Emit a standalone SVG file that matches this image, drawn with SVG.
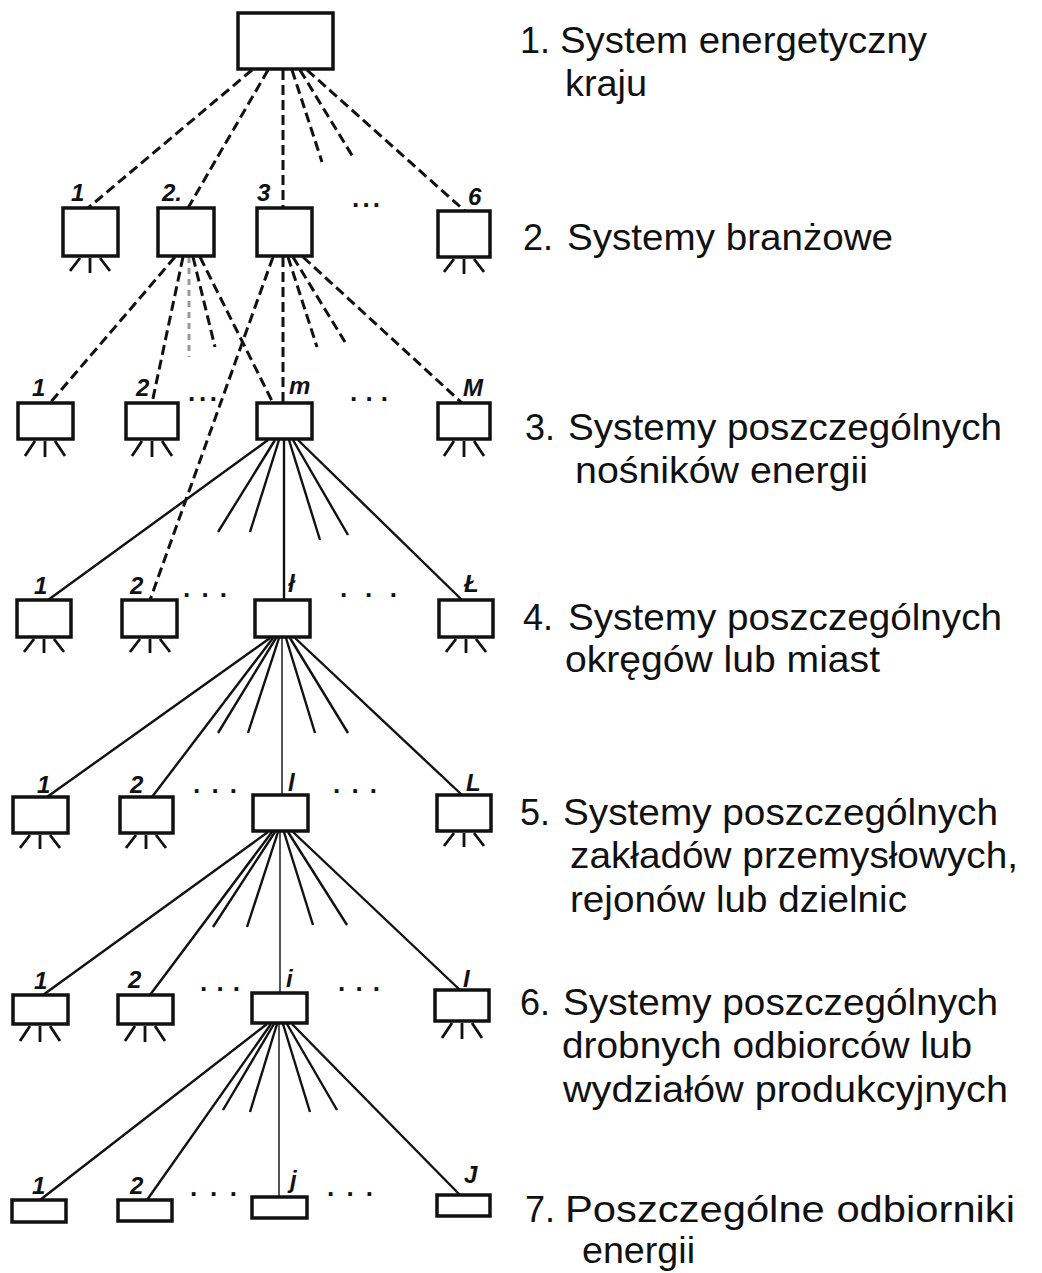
<svg xmlns="http://www.w3.org/2000/svg" width="1042" height="1273" viewBox="0 0 1042 1273">
<style>
.bx{fill:#fff;stroke:#111;stroke-width:3.5}
.d{stroke:#111;stroke-width:3;stroke-dasharray:10 5;fill:none}
.dl{stroke:#999;stroke-width:3;stroke-dasharray:6 5;fill:none}
.s{stroke:#111;stroke-width:2.4;fill:none}
.sv{stroke:#555;stroke-width:2;fill:none}
.lg{stroke:#111;stroke-width:2.8;fill:none}
.lb{font-family:"Liberation Sans",Arial,sans-serif;font-style:italic;font-weight:bold;font-size:24px;fill:#111}
.dt{font-family:"Liberation Sans",Arial,sans-serif;font-weight:bold;font-size:26px;fill:#111}
.t{font-family:"Liberation Sans",Arial,sans-serif;font-size:36px;fill:#111}
</style>
<rect width="1042" height="1273" fill="#fff"/>
<g id="connectors">
<line class="d" x1="252" y1="70" x2="88" y2="208"/>
<line class="d" x1="268" y1="70" x2="188" y2="208"/>
<line class="d" x1="283" y1="70" x2="283" y2="208"/>
<line class="d" x1="292" y1="70" x2="322" y2="162"/>
<line class="d" x1="300" y1="70" x2="353" y2="157"/>
<line class="d" x1="307" y1="70" x2="465" y2="211"/>
<line class="d" x1="175" y1="257" x2="50" y2="403"/>
<line class="d" x1="183" y1="257" x2="152" y2="403"/>
<line class="dl" x1="189" y1="257" x2="189" y2="357"/>
<line class="d" x1="193" y1="257" x2="215" y2="347"/>
<line class="d" x1="200" y1="257" x2="273" y2="403"/>
<line class="d" x1="273" y1="257" x2="150" y2="600"/>
<line class="d" x1="283" y1="257" x2="283" y2="403"/>
<line class="d" x1="288" y1="257" x2="317" y2="347"/>
<line class="d" x1="293" y1="257" x2="345" y2="342"/>
<line class="d" x1="303" y1="257" x2="462" y2="403"/>
<line class="s" x1="268" y1="440" x2="48" y2="600"/>
<line class="s" x1="275" y1="440" x2="218" y2="532"/>
<line class="s" x1="279" y1="440" x2="250" y2="532"/>
<line class="s" x1="284" y1="440" x2="284" y2="600"/>
<line class="s" x1="289" y1="440" x2="320" y2="540"/>
<line class="s" x1="293" y1="440" x2="348" y2="535"/>
<line class="s" x1="298" y1="440" x2="462" y2="600"/>
<line class="s" x1="270" y1="638" x2="47" y2="797"/>
<line class="s" x1="273" y1="638" x2="152" y2="797"/>
<line class="s" x1="276" y1="638" x2="218" y2="733"/>
<line class="s" x1="279" y1="638" x2="248" y2="733"/>
<line class="sv" x1="282" y1="638" x2="282" y2="795"/>
<line class="s" x1="286" y1="638" x2="315" y2="733"/>
<line class="s" x1="290" y1="638" x2="348" y2="733"/>
<line class="s" x1="295" y1="638" x2="462" y2="795"/>
<line class="s" x1="268" y1="832" x2="43" y2="995"/>
<line class="s" x1="272" y1="832" x2="150" y2="995"/>
<line class="s" x1="275" y1="832" x2="213" y2="927"/>
<line class="s" x1="278" y1="832" x2="247" y2="927"/>
<line class="sv" x1="280" y1="832" x2="280" y2="993"/>
<line class="s" x1="284" y1="832" x2="313" y2="925"/>
<line class="s" x1="288" y1="832" x2="347" y2="925"/>
<line class="s" x1="293" y1="832" x2="460" y2="990"/>
<line class="s" x1="267" y1="1024" x2="40" y2="1200"/>
<line class="s" x1="271" y1="1024" x2="147" y2="1200"/>
<line class="s" x1="274" y1="1024" x2="223" y2="1110"/>
<line class="s" x1="277" y1="1024" x2="250" y2="1112"/>
<line class="sv" x1="279" y1="1024" x2="279" y2="1197"/>
<line class="s" x1="283" y1="1024" x2="310" y2="1112"/>
<line class="s" x1="287" y1="1024" x2="337" y2="1110"/>
<line class="s" x1="292" y1="1024" x2="460" y2="1195"/>
<path class="lg" d="M80,258 L70,271 M90,258 L90,273 M100,258 L110,271"/>
<path class="lg" d="M454,259 L444,272 M464,259 L464,274 M474,259 L484,272"/>
<path class="lg" d="M35,441 L25,456 M45,441 L45,457 M55,441 L65,456"/>
<path class="lg" d="M142,441 L132,456 M152,441 L152,457 M162,441 L172,456"/>
<path class="lg" d="M454,441 L444,456 M464,441 L464,457 M474,441 L484,456"/>
<path class="lg" d="M34,639 L24,652 M44,639 L44,653 M54,639 L64,652"/>
<path class="lg" d="M140,639 L130,652 M150,639 L150,653 M160,639 L170,652"/>
<path class="lg" d="M456,639 L446,652 M466,639 L466,653 M476,639 L486,652"/>
<path class="lg" d="M30,835 L20,848 M40,835 L40,849 M50,835 L60,848"/>
<path class="lg" d="M136,835 L126,848 M146,835 L146,849 M156,835 L166,848"/>
<path class="lg" d="M454,833 L444,846 M464,833 L464,847 M474,833 L484,846"/>
<path class="lg" d="M30,1026 L20,1041 M40,1026 L40,1042 M50,1026 L60,1041"/>
<path class="lg" d="M135,1026 L125,1041 M145,1026 L145,1042 M155,1026 L165,1041"/>
<path class="lg" d="M452,1023 L442,1038 M462,1023 L462,1039 M472,1023 L482,1038"/>
</g>
<g id="n1"><rect class="bx" x="238" y="13" width="95" height="56"/></g>
<g id="n2-1"><rect class="bx" x="63" y="208" width="55" height="48"/><text class="lb" x="71" y="201">1</text></g>
<g id="n2-2"><rect class="bx" x="158" y="208" width="56" height="48"/><text class="lb" x="162" y="201">2.</text></g>
<g id="n2-3"><rect class="bx" x="257" y="208" width="55" height="48"/><text class="lb" x="257" y="201">3</text></g>
<g id="n2-6"><rect class="bx" x="438" y="211" width="52" height="46"/><text class="lb" x="468" y="205">6</text></g>
<text class="dt" x="352" y="207" textLength="28" lengthAdjust="spacing">...</text>
<g id="n3-1"><rect class="bx" x="18" y="403" width="55" height="36"/><text class="lb" x="32" y="396">1</text></g>
<g id="n3-2"><rect class="bx" x="126" y="403" width="52" height="36"/><text class="lb" x="136" y="396">2</text></g>
<g id="n3-m"><rect class="bx" x="257" y="403" width="55" height="36"/><text class="lb" x="289" y="394">m</text></g>
<g id="n3-M"><rect class="bx" x="438" y="403" width="52" height="36"/><text class="lb" x="463" y="396">M</text></g>
<text class="dt" x="188" y="401" textLength="29" lengthAdjust="spacing">...</text>
<text class="dt" x="350" y="401" textLength="38" lengthAdjust="spacing">...</text>
<g id="n4-1"><rect class="bx" x="17" y="600" width="54" height="37"/><text class="lb" x="34" y="594">1</text></g>
<g id="n4-2"><rect class="bx" x="122" y="600" width="55" height="37"/><text class="lb" x="130" y="594">2</text></g>
<g id="n4-l"><rect class="bx" x="255" y="600" width="55" height="37"/><text class="lb" x="288" y="592">ł</text></g>
<g id="n4-L"><rect class="bx" x="439" y="600" width="54" height="37"/><text class="lb" x="464" y="592">Ł</text></g>
<text class="dt" x="183" y="597" textLength="44" lengthAdjust="spacing">...</text>
<text class="dt" x="340" y="597" textLength="57" lengthAdjust="spacing">...</text>
<g id="n5-1"><rect class="bx" x="13" y="797" width="55" height="36"/><text class="lb" x="37" y="793">1</text></g>
<g id="n5-2"><rect class="bx" x="120" y="797" width="53" height="36"/><text class="lb" x="130" y="793">2</text></g>
<g id="n5-l"><rect class="bx" x="253" y="795" width="55" height="36"/><text class="lb" x="288" y="791">l</text></g>
<g id="n5-L"><rect class="bx" x="437" y="795" width="54" height="36"/><text class="lb" x="466" y="791">L</text></g>
<text class="dt" x="193" y="793" textLength="44" lengthAdjust="spacing">...</text>
<text class="dt" x="333" y="793" textLength="44" lengthAdjust="spacing">...</text>
<g id="n6-1"><rect class="bx" x="13" y="995" width="55" height="29"/><text class="lb" x="34" y="989">1</text></g>
<g id="n6-2"><rect class="bx" x="118" y="995" width="55" height="29"/><text class="lb" x="128" y="988">2</text></g>
<g id="n6-i"><rect class="bx" x="252" y="993" width="55" height="30"/><text class="lb" x="286" y="987">i</text></g>
<g id="n6-I"><rect class="bx" x="435" y="990" width="54" height="31"/><text class="lb" x="463" y="987">I</text></g>
<text class="dt" x="200" y="991" textLength="40" lengthAdjust="spacing">...</text>
<text class="dt" x="338" y="991" textLength="42" lengthAdjust="spacing">...</text>
<g id="n7-1"><rect class="bx" x="12" y="1200" width="54" height="22"/><text class="lb" x="32" y="1194">1</text></g>
<g id="n7-2"><rect class="bx" x="118" y="1200" width="54" height="21"/><text class="lb" x="130" y="1194">2</text></g>
<g id="n7-j"><rect class="bx" x="252" y="1197" width="55" height="21"/><text class="lb" x="290" y="1188">j</text></g>
<g id="n7-J"><rect class="bx" x="437" y="1195" width="53" height="21"/><text class="lb" x="464" y="1183">J</text></g>
<text class="dt" x="190" y="1196" textLength="47" lengthAdjust="spacing">...</text>
<text class="dt" x="327" y="1196" textLength="46" lengthAdjust="spacing">...</text>
<g id="legend">
<text class="t" x="520" y="53">1.</text>
<text class="t" x="560" y="53" textLength="367" lengthAdjust="spacingAndGlyphs">System energetyczny</text>
<text class="t" x="565" y="96" textLength="82" lengthAdjust="spacingAndGlyphs">kraju</text>
<text class="t" x="523" y="250">2.</text>
<text class="t" x="567" y="250" textLength="326" lengthAdjust="spacingAndGlyphs">Systemy branżowe</text>
<text class="t" x="525" y="440">3.</text>
<text class="t" x="568" y="440" textLength="434" lengthAdjust="spacingAndGlyphs">Systemy poszczególnych</text>
<text class="t" x="575" y="483" textLength="293" lengthAdjust="spacingAndGlyphs">nośników energii</text>
<text class="t" x="523" y="630">4.</text>
<text class="t" x="568" y="630" textLength="434" lengthAdjust="spacingAndGlyphs">Systemy poszczególnych</text>
<text class="t" x="565" y="672" textLength="315" lengthAdjust="spacingAndGlyphs">okręgów lub miast</text>
<text class="t" x="520" y="825">5.</text>
<text class="t" x="563" y="825" textLength="435" lengthAdjust="spacingAndGlyphs">Systemy poszczególnych</text>
<text class="t" x="570" y="868" textLength="448" lengthAdjust="spacingAndGlyphs">zakładów przemysłowych,</text>
<text class="t" x="570" y="912" textLength="337" lengthAdjust="spacingAndGlyphs">rejonów lub dzielnic</text>
<text class="t" x="520" y="1015">6.</text>
<text class="t" x="563" y="1015" textLength="435" lengthAdjust="spacingAndGlyphs">Systemy poszczególnych</text>
<text class="t" x="562" y="1058" textLength="410" lengthAdjust="spacingAndGlyphs">drobnych odbiorców lub</text>
<text class="t" x="563" y="1102" textLength="445" lengthAdjust="spacingAndGlyphs">wydziałów produkcyjnych</text>
<text class="t" x="525" y="1222">7.</text>
<text class="t" x="565" y="1222" textLength="450" lengthAdjust="spacingAndGlyphs">Poszczególne odbiorniki</text>
<text class="t" x="582" y="1263" textLength="113" lengthAdjust="spacingAndGlyphs">energii</text>
</g>
</svg>
